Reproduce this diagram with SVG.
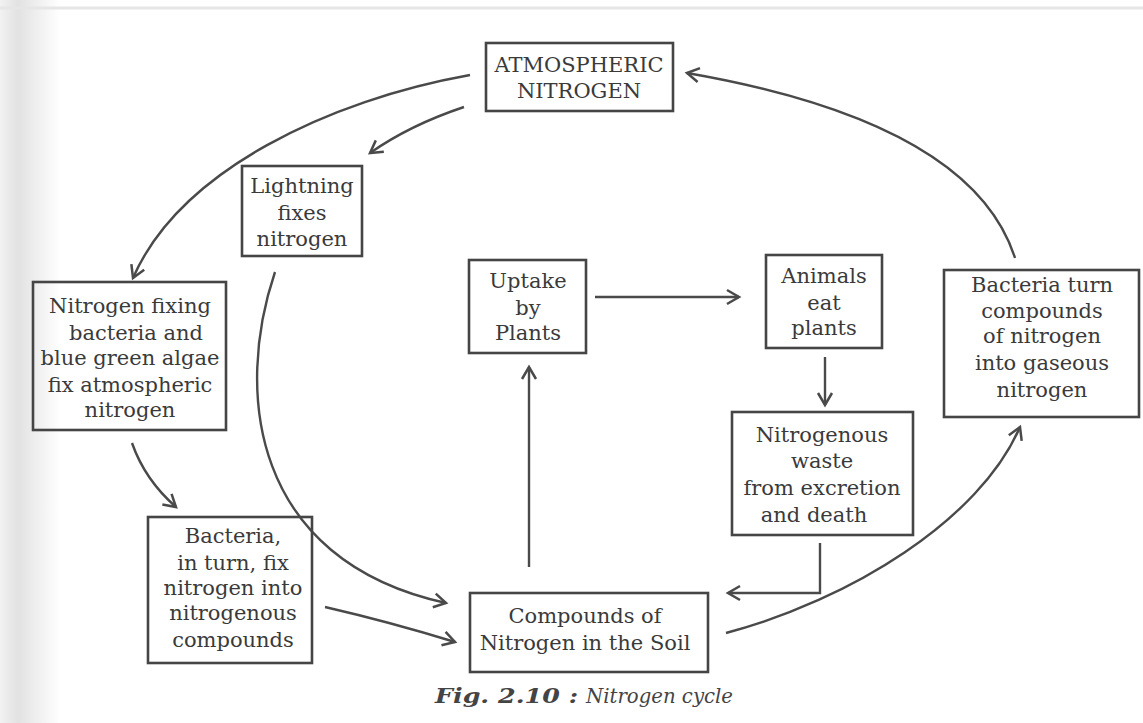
<svg xmlns="http://www.w3.org/2000/svg" width="1143" height="723" viewBox="0 0 1143 723">
<defs>
<style>
.box{fill:none;stroke:#454545;stroke-width:2.6}
.t{font-family:"DejaVu Serif","Liberation Serif",serif;font-size:21px;fill:#3a3a3a;text-anchor:middle}
.c{fill:none;stroke:#4a4a4a;stroke-width:2.4}
.cap{font-family:"DejaVu Serif","Liberation Serif",serif;font-size:20px;fill:#444;font-style:italic}
</style>
<marker id="ah" viewBox="-15 -9 18 18" refX="0" refY="0" markerWidth="18" markerHeight="18" markerUnits="userSpaceOnUse" orient="auto">
<path d="M-12,-7 L0,0 L-12,7" fill="none" stroke="#4a4a4a" stroke-width="2.5" stroke-linejoin="miter"/>
</marker>
<linearGradient id="scan" x1="0" y1="0" x2="1" y2="0">
<stop offset="0" stop-color="#f2f2f2"/>
<stop offset="0.3" stop-color="#e2e2e2"/>
<stop offset="1" stop-color="#ffffff"/>
</linearGradient>
</defs>
<rect x="0" y="0" width="1143" height="723" fill="#fff"/>
<rect x="0" y="0" width="60" height="723" fill="url(#scan)"/>
<line x1="0" y1="8" x2="1143" y2="8" stroke="#e6e6e6" stroke-width="3"/>

<g id="connectors">
<path class="c" d="M470,75 C330,100 180,170 133,278" marker-end="url(#ah)"/>
<path class="c" d="M464,107 Q410,125 370,153" marker-end="url(#ah)"/>
<path class="c" d="M275,272 C235,390 250,560 446,603" marker-end="url(#ah)"/>
<path class="c" d="M132,443 Q145,480 176,507" marker-end="url(#ah)"/>
<path class="c" d="M325,607 Q390,622 455,642" marker-end="url(#ah)"/>
<path class="c" d="M529,567 L529,367" marker-end="url(#ah)"/>
<path class="c" d="M595,297 L739,297" marker-end="url(#ah)"/>
<path class="c" d="M825,357 L825,405" marker-end="url(#ah)"/>
<path class="c" d="M820,543 L820,593 L728,593" marker-end="url(#ah)"/>
<path class="c" d="M726,633 C850,600 980,520 1020,427" marker-end="url(#ah)"/>
<path class="c" d="M1015,258 C990,180 900,110 687,73" marker-end="url(#ah)"/>
</g>

<g id="atmospheric">
<rect class="box" x="486" y="43" width="187" height="68"/>
<text class="t" x="579" y="72">ATMOSPHERIC</text>
<text class="t" x="579" y="98">NITROGEN</text>
</g>
<g id="lightning">
<rect class="box" x="242" y="166" width="120" height="90"/>
<text class="t" x="302" y="193">Lightning</text>
<text class="t" x="302" y="220">fixes</text>
<text class="t" x="302" y="246">nitrogen</text>
</g>
<g id="nitrogen-fixing">
<rect class="box" x="33" y="282" width="193" height="148"/>
<text class="t" x="130" y="313">Nitrogen fixing</text>
<text class="t" x="136" y="340">bacteria and</text>
<text class="t" x="130" y="365">blue green algae</text>
<text class="t" x="130" y="392">fix atmospheric</text>
<text class="t" x="130" y="417">nitrogen</text>
</g>
<g id="bacteria-fix">
<rect class="box" x="148" y="517" width="164" height="146"/>
<text class="t" x="233" y="543">Bacteria,</text>
<text class="t" x="233" y="570">in turn, fix</text>
<text class="t" x="233" y="595">nitrogen into</text>
<text class="t" x="233" y="620">nitrogenous</text>
<text class="t" x="233" y="647">compounds</text>
</g>
<g id="uptake">
<rect class="box" x="469" y="260" width="117" height="93"/>
<text class="t" x="528" y="288">Uptake</text>
<text class="t" x="528" y="315">by</text>
<text class="t" x="528" y="340">Plants</text>
</g>
<g id="animals">
<rect class="box" x="766" y="255" width="116" height="93"/>
<text class="t" x="824" y="283">Animals</text>
<text class="t" x="824" y="310">eat</text>
<text class="t" x="824" y="335">plants</text>
</g>
<g id="waste">
<rect class="box" x="732" y="412" width="181" height="123"/>
<text class="t" x="822" y="442">Nitrogenous</text>
<text class="t" x="822" y="468">waste</text>
<text class="t" x="822" y="495">from excretion</text>
<text class="t" x="814" y="522">and death</text>
</g>
<g id="soil">
<rect class="box" x="470" y="593" width="238" height="79"/>
<text class="t" x="585" y="623">Compounds of</text>
<text class="t" x="585" y="650">Nitrogen in the Soil</text>
</g>
<g id="denitrify">
<rect class="box" x="944" y="270" width="195" height="147"/>
<text class="t" x="1042" y="292">Bacteria turn</text>
<text class="t" x="1042" y="318">compounds</text>
<text class="t" x="1042" y="343">of nitrogen</text>
<text class="t" x="1042" y="370">into gaseous</text>
<text class="t" x="1042" y="397">nitrogen</text>
</g>

<text class="cap" x="435" y="703" font-weight="bold" textLength="143" lengthAdjust="spacingAndGlyphs">Fig. 2.10 :</text>
<text class="cap" x="586" y="703" textLength="147" lengthAdjust="spacingAndGlyphs">Nitrogen cycle</text>
</svg>
